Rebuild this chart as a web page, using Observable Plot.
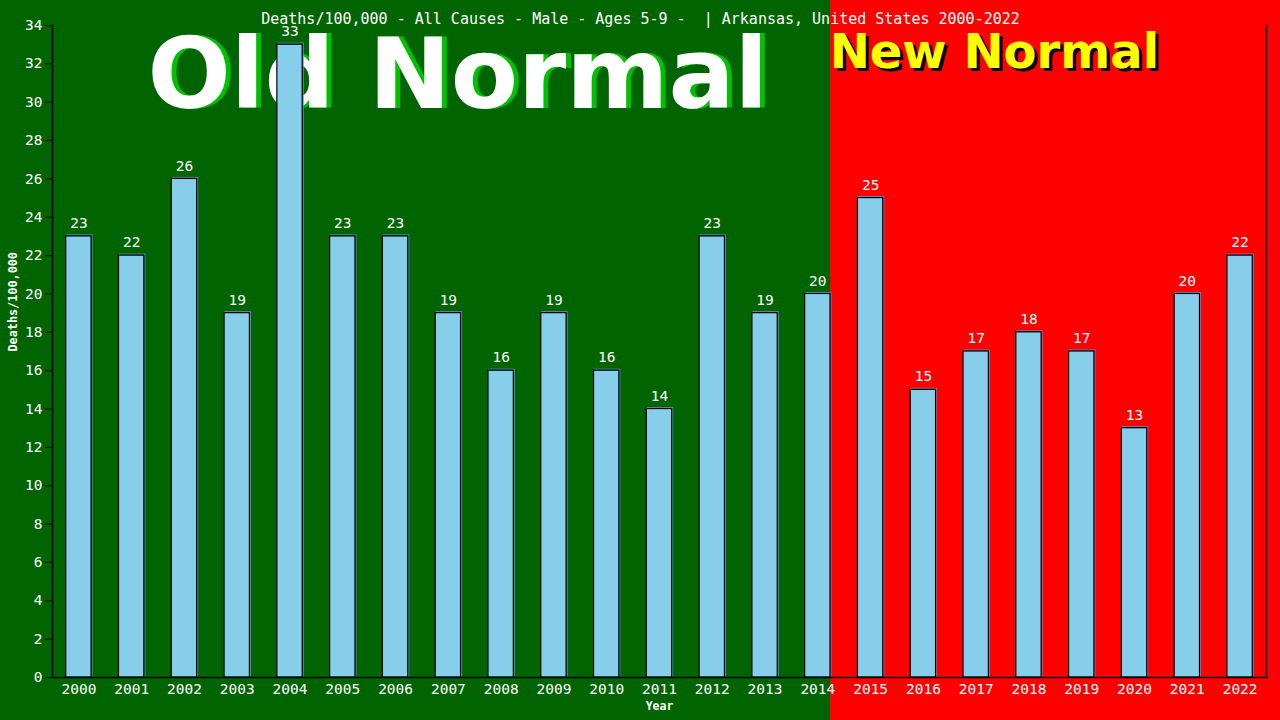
<!DOCTYPE html>
<html>
<head>
<meta charset="utf-8">
<script src="https://cdn.jsdelivr.net/npm/d3@7"></script>
<script src="https://cdn.jsdelivr.net/npm/@observablehq/plot@0.6"></script>
<style>
  html, body { margin: 0; padding: 0; background: #006400; overflow: hidden; }
</style>
</head>
<body>
<div id="chart"></div>
<script>
const years = ["2000","2001","2002","2003","2004","2005","2006","2007","2008","2009","2010","2011",
               "2012","2013","2014","2015","2016","2017","2018","2019","2020","2021","2022"];
const values = [23,22,26,19,33,23,23,19,16,19,16,14,23,19,20,25,15,17,18,17,13,20,22];
const yTicks = [0,2,4,6,8,10,12,14,16,18,20,22,24,26,28,30,32,34];
const titleText = "Deaths/100,000 - All Causes - Male - Ages 5-9 -  | Arkansas, United States 2000-2022";
const yLabel = "Deaths/100,000";
const xLabel = "Year";
const oldLabel = "Old Normal";
const newLabel = "New Normal";
const lastOldYear = "2014";
const firstNewYear = "2015";

const data = years.map((year, i) => ({year, value: values[i]}));

const mono = "'DejaVu Sans Mono', monospace";
const sans = "'DejaVu Sans', sans-serif";

const svg = Plot.plot({
  width: 1280,
  height: 720,
  marginLeft: 52,
  marginRight: 14,
  marginTop: 25,
  marginBottom: 43,
  style: {background: "none", fontFamily: mono, whiteSpace: "pre"},
  x: {type: "band", domain: years, paddingInner: 0.52, paddingOuter: 0.26, round: false, label: null},
  y: {domain: [0, 34], label: null},
  marks: [
    // big annotations behind bars
    Plot.text([oldLabel], {frameAnchor: "top-left", textAnchor: "start", lineAnchor: "bottom",
      dx: 100, dy: 82, fill: "#00c000", fontSize: 98, fontWeight: "bold", fontFamily: sans}),
    Plot.text([oldLabel], {frameAnchor: "top-left", textAnchor: "start", lineAnchor: "bottom",
      dx: 95, dy: 82, fill: "white", fontSize: 98, fontWeight: "bold", fontFamily: sans}),
    Plot.text([newLabel], {x: () => firstNewYear, frameAnchor: "top", textAnchor: "start", lineAnchor: "bottom",
      dx: -38, dy: 45, fill: "black", fontSize: 48, fontWeight: "bold", fontFamily: sans}),
    Plot.text([newLabel], {x: () => firstNewYear, frameAnchor: "top", textAnchor: "start", lineAnchor: "bottom",
      dx: -41, dy: 42, fill: "#ffff00", fontSize: 48, fontWeight: "bold", fontFamily: sans}),
    // bars
    Plot.barY(data, {x: "year", y: "value", fill: "none", stroke: "#5b8fc7", strokeWidth: 1, dx: 1, dy: -1}),
    Plot.barY(data, {x: "year", y: "value", fill: "#87ceeb", stroke: "black", strokeWidth: 1.2}),
    Plot.text(data, {x: "year", y: "value", text: d => String(d.value), dy: -13, fill: "white", fontSize: 14.5, fontFamily: mono}),
    // axes
    Plot.axisY({ticks: yTicks, tickSize: 7, tickPadding: 3, fontSize: 14.5, color: "white", stroke: "black", label: null}),
    Plot.axisX({tickSize: 0, tickPadding: 6, fontSize: 14.5, color: "white", label: null}),
    Plot.frame({anchor: "left", stroke: "black", strokeWidth: 1.5}),
    Plot.frame({anchor: "bottom", stroke: "black", strokeWidth: 1.5}),
    Plot.frame({anchor: "right", stroke: "black", strokeWidth: 1.5}),
    // texts
    Plot.text([titleText], {frameAnchor: "top", dx: -19, dy: -12, fill: "white", fontSize: 15, fontFamily: mono}),
    Plot.text([yLabel], {frameAnchor: "left", rotate: -90, dx: -39, fill: "white", fontSize: 11.8, fontWeight: "bold", fontFamily: mono}),
    Plot.text([xLabel], {frameAnchor: "bottom", dy: 32, fill: "white", fontSize: 11.5, fontWeight: "bold", fontFamily: mono})
  ]
});

// Background halves, split computed from the x scale
const xs = svg.scale("x");
const split = xs.apply(lastOldYear) + xs.bandwidth;
const ns = "http://www.w3.org/2000/svg";
const bg = document.createElementNS(ns, "g");
const r1 = document.createElementNS(ns, "rect");
r1.setAttribute("x", 0); r1.setAttribute("y", 0);
r1.setAttribute("width", split); r1.setAttribute("height", 720);
r1.setAttribute("fill", "#006400");
const r2 = document.createElementNS(ns, "rect");
r2.setAttribute("x", split); r2.setAttribute("y", 0);
r2.setAttribute("width", 1280 - split); r2.setAttribute("height", 720);
r2.setAttribute("fill", "#ff0000");
bg.appendChild(r1); bg.appendChild(r2);
const styleEl = svg.querySelector("style");
if (styleEl && styleEl.nextSibling) svg.insertBefore(bg, styleEl.nextSibling);
else svg.insertBefore(bg, svg.firstChild);

document.getElementById("chart").appendChild(svg);
</script>
</body>
</html>
